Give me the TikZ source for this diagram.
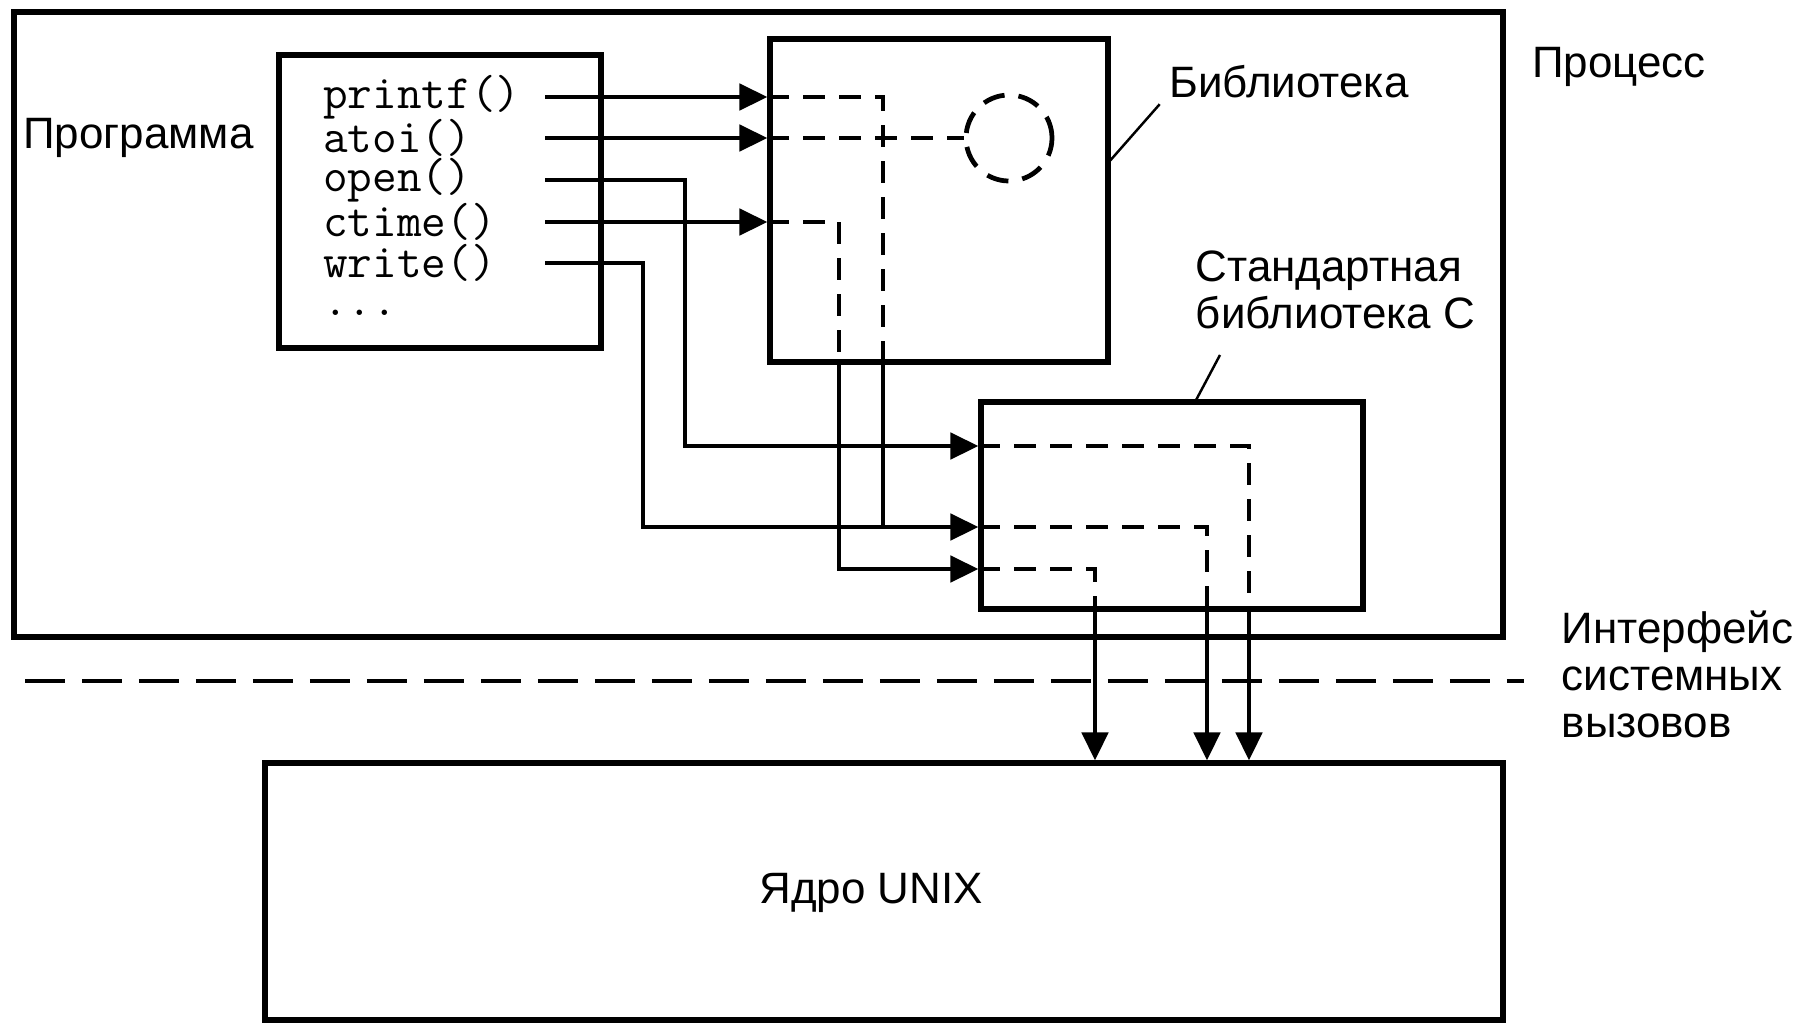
\documentclass[tikz,border=0pt]{standalone}
\usepackage{fontspec}
\setmainfont{Liberation Sans}
\usetikzlibrary{arrows.meta,positioning}

\begin{document}
\begin{tikzpicture}[x=0.1mm, y=-0.1mm, line width=1.35pt,
  box/.style={draw, line width=1.45pt, inner sep=0pt},
  lbl/.style={font=\fontsize{12.5}{13.4}\selectfont, align=left, inner sep=1pt},
  fn/.style={font=\ttfamily\fontsize{13.6}{13.6}\selectfont, anchor=west, inner sep=0pt},
  call/.style={-{Triangle[length=2.8mm,width=2.6mm]}},
  thru/.style={dash pattern=on 2.2mm off 1.4mm},
  leader/.style={line width=0.7pt},
  sysline/.style={dash pattern=on 4mm off 1.7mm}]

  \useasboundingbox (0,0) rectangle (1802,1023);

  % ---------- boxes ----------
  \node[box, minimum width=148.9mm, minimum height=62.5mm] (proc) at (758.5,324.5) {};
  \node[box, minimum width=32.2mm, minimum height=29.3mm] (prog) at (440,201.5) {};
  \node[box, minimum width=33.8mm, minimum height=32.3mm] (lib) at (939,200.5) {};
  \node[box, minimum width=38.2mm, minimum height=20.7mm] (clib) at (1172,505.5) {};
  \node[box, minimum width=123.8mm, minimum height=25.7mm] (kern) at (884,891.5) {};
  \node[draw, circle, thru, minimum size=8.6mm, inner sep=0pt] (slot) at (1009,138) {};

  % ---------- calls in the program ----------
  \node[fn] (fprintf) at (321,97) {printf()};
  \node[fn] (fatoi) at (321,138) {atoi()};
  \node[fn] (fopen) at (321,180) {open()};
  \node[fn] (fctime) at (321,222) {ctime()};
  \node[fn] (fwrite) at (321,263) {write()};
  \node[fn] (fmore) at (321,313) {...};

  % ---------- labels ----------
  \node[lbl, anchor=east] (proglbl) at ([xshift=-1.7mm]prog.west |- fatoi) {Программа};
  \node[lbl] (proclbl) at (1619,67) {Процесс};
  \node[lbl] (liblbl) at (1289,82) {Библиотека};
  \node[lbl, anchor=west] (clibl) at (1190,290) {Стандартная\\библиотека C};
  \node[lbl, anchor=west] (iflbl) at (1556,674) {Интерфейс\\системных\\вызовов};
  \node[lbl] (kernlbl) at (871,893) {Ядро UNIX};

  % ---------- bends ----------
  \coordinate (src) at (545,0);
  \coordinate (openx) at (685,446);
  \coordinate (writex) at (643,527);
  \coordinate (ctimex) at (839,569);
  \coordinate (printfx) at (883,527);
  \coordinate (ko) at (1249,0);
  \coordinate (kw) at (1207,0);
  \coordinate (kc) at (1095,0);
  \coordinate (libtap) at (1108,163);
  \coordinate (cliptap) at (1195,402);
  \coordinate (ifl) at (25,681);
  \coordinate (ifr) at (1524,681);

  % ---------- leaders ----------
  \draw[leader] ([xshift=-0.4mm]liblbl.south west) -- (libtap);
  \draw[leader] ([xshift=3mm,yshift=-2mm]clibl.south west) -- (cliptap);

  % ---------- printf() -> write() ----------
  \draw[call] (src |- fprintf) -- (lib.west |- fprintf);
  \draw[thru] (lib.west |- fprintf) -| (printfx |- lib.south);
  \draw (printfx |- lib.south) -- (printfx);

  % ---------- atoi() ----------
  \draw[call] (src |- fatoi) -- (lib.west |- fatoi);
  \draw[thru] (lib.west |- fatoi) -- (slot.west);

  % ---------- ctime() -> C library ----------
  \draw[call] (src |- fctime) -- (lib.west |- fctime);
  \draw[thru] (lib.west |- fctime) -| (ctimex |- lib.south);
  \draw[call] (ctimex |- lib.south) -- (ctimex) -- (clib.west |- ctimex);

  % ---------- open() and write() ----------
  \draw[call] (src |- fopen) -| (openx) -- (clib.west |- openx);
  \draw[call] (src |- fwrite) -| (writex) -- (clib.west |- writex);

  % ---------- through the C library ----------
  \draw[thru] (clib.west |- openx) -| (ko |- clib.south);
  \draw[thru] (clib.west |- writex) -| (kw |- clib.south);
  \draw[thru] (clib.west |- ctimex) -| (kc |- clib.south);

  % ---------- system call interface ----------
  \draw[sysline] (ifl) -- (ifr);
  \foreach \k in {ko,kw,kc}{
    \draw[call] (\k |- clib.south) -- (\k |- kern.north);
  }

\end{tikzpicture}
\end{document}
